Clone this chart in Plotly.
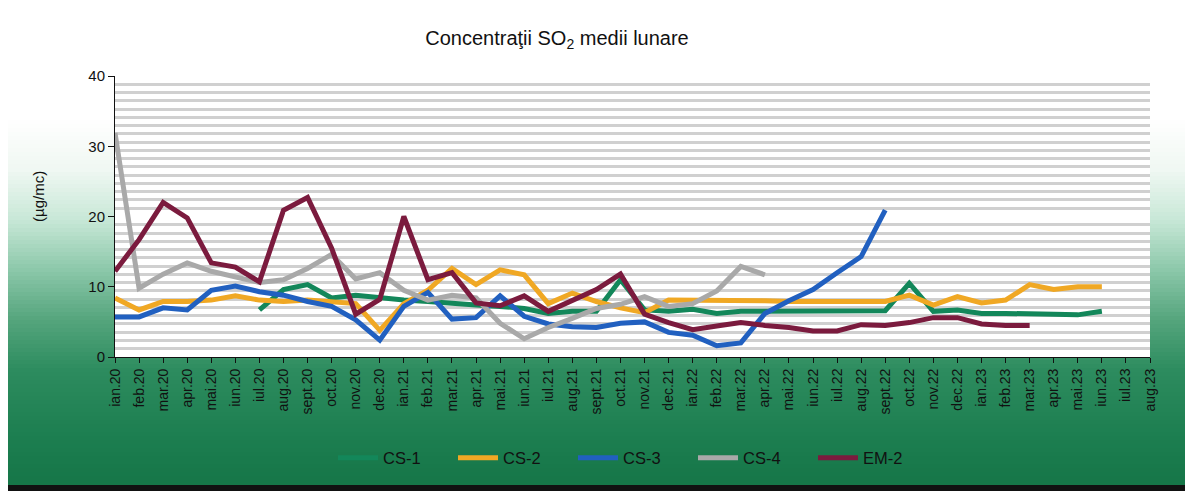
# Concentratii SO2 medii lunare - monthly mean SO2 per station
import plotly.graph_objects as go

months = ["ian.20", "feb.20", "mar.20", "apr.20", "mai.20", "iun.20", "iul.20", "aug.20", "sept.20", "oct.20", "nov.20", "dec.20",
          "ian.21", "feb.21", "mar.21", "apr.21", "mai.21", "iun.21", "iul.21", "aug.21", "sept.21", "oct.21", "nov.21", "dec.21",
          "ian.22", "feb.22", "mar.22", "apr.22", "mai.22", "iun.22", "iul.22", "aug.22", "sept.22", "oct.22", "nov.22", "dec.22",
          "ian.23", "feb.23", "mar.23", "apr.23", "mai.23", "iun.23", "iul.23", "aug.23"]

cs1 = [None, None, None, None, None, None, 6.7, 9.6, 10.3, 8.4, 8.8, 8.4,
       8.1, 7.9, 7.6, 7.4, 7.2, 6.9, 6.2, 6.5, 6.5, 11.0, 6.7, 6.5,
       6.8, 6.2, 6.5, 6.5, 6.5, 6.5, 6.5, 6.6, 6.6, 10.5, 6.5, 6.7,
       6.2, 6.2, 6.2, 6.1, 6.0, 6.5, None, None]
cs2 = [8.4, 6.7, 7.9, 7.9, 8.1, 8.7, 8.1, 7.9, 8.1, 7.9, 7.6, 3.8,
       7.6, 9.5, 12.6, 10.3, 12.4, 11.7, 7.6, 9.1, 7.9, 7.0, 6.3, 8.1,
       8.1, 8.1, 8.1, 8.0, 7.9, 7.9, 7.9, 7.8, 7.9, 8.8, 7.4, 8.6,
       7.7, 8.1, 10.3, 9.6, 10.0, 10.0, None, None]
cs3 = [5.7, 5.7, 7.0, 6.7, 9.5, 10.1, 9.3, 8.8, 7.9, 7.2, 5.3, 2.4,
       7.2, 9.2, 5.4, 5.6, 8.7, 5.8, 4.7, 4.3, 4.2, 4.8, 5.0, 3.5,
       3.1, 1.6, 2.0, 6.2, 8.0, 9.6, 12.0, 14.3, 20.9]
cs4 = [31.9, 9.8, 11.8, 13.4, 12.2, 11.4, 10.6, 11.0, 12.6, 14.6, 11.1, 12.0,
       9.5, 8.1, 8.8, 8.4, 4.8, 2.6, 4.2, 5.5, 6.9, 7.5, 8.6, 7.2,
       7.6, 9.4, 12.9, 11.7]
em2 = [12.2, 16.7, 22.0, 19.8, 13.4, 12.8, 10.7, 20.9, 22.7, 15.5, 6.1, 8.2,
       20.0, 11.0, 12.0, 7.7, 7.3, 8.7, 6.5, 8.1, 9.6, 11.8, 6.1, 4.9,
       3.9, 4.4, 4.9, 4.5, 4.2, 3.7, 3.7, 4.6, 4.5, 4.9, 5.6, 5.6,
       4.7, 4.5, 4.5]

series = [("CS-1", cs1, "#13875a"), ("CS-2", cs2, "#f0a824"), ("CS-3", cs3, "#2160c0"),
          ("CS-4", cs4, "#a9a9a9"), ("EM-2", em2, "#7b1b3e")]

fig = go.Figure()
for name, vals, col in series:
    fig.add_trace(go.Scatter(x=months[:len(vals)], y=vals, name=name, mode="lines",
                             line=dict(color=col, width=5), connectgaps=False))

# page body has an 8px margin, so the figure is drawn 8px in from the corner
OFF = 8
W, H = 1193 - OFF, 497 - OFF
L, R, T, B = 115 - OFF, 1150 - OFF, 76 - OFF, 357 - OFF
def px_x(px): return (px - OFF - L) / (R - L)   # px = page pixel
def px_y(py): return (B - (py - OFF)) / (B - T)

# page background: white fading to green (scanned brochure look)
stops = [(120, (255, 255, 255)), (170, (240, 248, 243)), (220, (200, 232, 215)),
         (270, (140, 200, 170)), (320, (85, 165, 125)), (370, (45, 140, 95)),
         (430, (30, 128, 82)), (485, (22, 118, 72))]
def col_at(py):
    if py <= stops[0][0]:
        return stops[0][1]
    for (a, ca), (b, cb) in zip(stops, stops[1:]):
        if a <= py <= b:
            t = (py - a) / (b - a)
            return tuple(int(ca[k] + (cb[k] - ca[k]) * t) for k in range(3))
    return stops[-1][1]

shapes = []
step = 4
for py in range(120, 486, step):
    c = col_at(py + step / 2)
    shapes.append(dict(type="rect", xref="paper", yref="paper", layer="below",
                       x0=px_x(0), x1=px_x(1200), y0=px_y(py + step + 1), y1=px_y(py),
                       fillcolor="rgb(%d,%d,%d)" % c, line=dict(width=0)))
shapes.append(dict(type="rect", xref="paper", yref="paper", layer="below",
                   x0=px_x(0), x1=px_x(1200), y0=px_y(491), y1=px_y(485),
                   fillcolor="#111", line=dict(width=0)))
shapes.append(dict(type="rect", xref="paper", yref="paper", layer="below",
                   x0=0, x1=1, y0=0, y1=1, fillcolor="white", line=dict(width=0)))

fig.update_layout(
    width=W, height=H,
    margin=dict(l=L, r=W - R, t=T, b=H - B),
    paper_bgcolor="white", plot_bgcolor="white",
    font=dict(family="Liberation Sans, Arial", color="#222"),
    title=dict(text="Concentraţii SO<sub>2</sub> medii lunare", x=(557 - OFF) / W, y=1 - (38 - OFF) / H,
               xanchor="center", yanchor="middle", font=dict(size=20, color="#111")),
    shapes=shapes,
    showlegend=True,
    legend=dict(orientation="h", x=px_x(333), xanchor="left", y=px_y(458), yanchor="middle",
                bgcolor="rgba(0,0,0,0)", font=dict(size=16.5, color="#111"),
                entrywidth=65, entrywidthmode="pixels", itemwidth=40),
    annotations=[dict(text="(µg/mc)", textangle=-90, xref="paper", yref="paper",
                      x=px_x(38), y=px_y(197), xanchor="center", yanchor="middle",
                      showarrow=False, font=dict(size=15, color="#111"))],
)
fig.update_xaxes(type="category", range=[0, len(months) - 1], tickangle=-90,
                 showline=True, linecolor="#111", linewidth=1, ticks="outside", ticklen=5,
                 tickcolor="#111", showgrid=False, tickfont=dict(size=14, color="#111"))
fig.update_yaxes(range=[0, 40], dtick=10, showline=True, linecolor="#111", linewidth=1,
                 ticks="outside", ticklen=6, tickcolor="#111", showgrid=False, zeroline=False,
                 tickfont=dict(size=15, color="#111"),
                 minor=dict(dtick=40 / 34, tick0=0, showgrid=True, gridcolor="rgb(208,208,208)", gridwidth=3))

fig.write_html("out.html")
